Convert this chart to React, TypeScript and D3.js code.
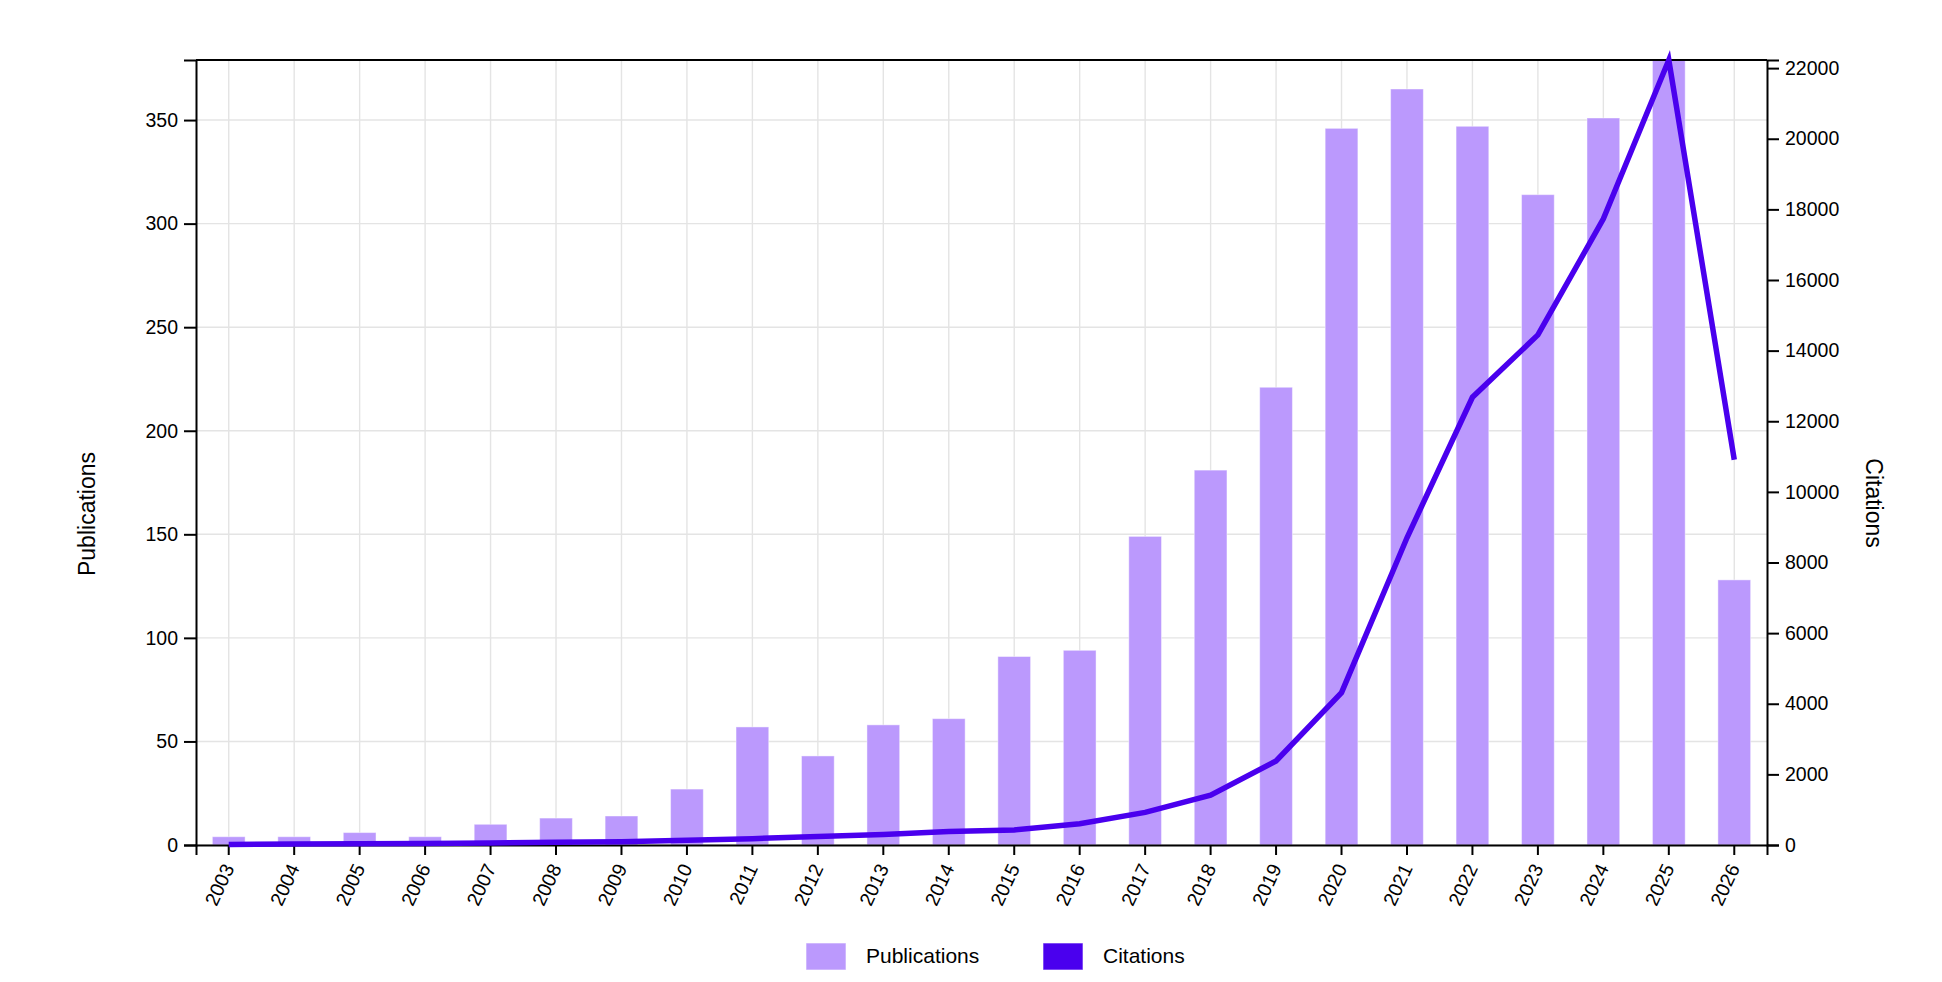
import * as d3 from "d3";
import { useEffect, useRef } from "react";

const years = [
    "2003", "2004", "2005", "2006", "2007", "2008", "2009", "2010",
    "2011", "2012", "2013", "2014", "2015", "2016", "2017", "2018",
    "2019", "2020", "2021", "2022", "2023", "2024", "2025", "2026",
];

const publications = [
    4, 4, 6, 4, 10, 13, 14, 27,
    57, 43, 58, 61, 91, 94, 149, 181,
    221, 346, 365, 347, 314, 351, 379, 128,
];

const citations = [
    15, 25, 35, 45, 60, 75, 95, 133,
    180, 238, 295, 380, 428, 600, 923, 1409,
    2380, 4316, 8700, 12680, 14445, 17730, 22230, 10909,
];

const legendItems = ["Publications", "Citations"];

const BAR_COLOR = "#bb99fd";
const LINE_COLOR = "#4a00ee";
const FONT = "'Liberation Sans', Arial, sans-serif";

export default function App() {
    const svgRef = useRef<SVGSVGElement>(null);

    const width = 1942;
    const height = 982;
    const margin = { top: 60, right: 175, bottom: 137, left: 196 };
    const innerWidth = width - margin.left - margin.right;
    const innerHeight = height - margin.top - margin.bottom;

    useEffect(() => {
        const svg = d3.select(svgRef.current);
        svg.selectAll("*").remove();

        const g = svg.append("g")
            .attr("transform", `translate(${margin.left},${margin.top})`);

        const x = d3.scaleBand<string>()
            .domain(years)
            .range([0, innerWidth])
            .padding(0);

        const yLeft = d3.scaleLinear()
            .domain([0, d3.max(publications)!])
            .range([innerHeight, 0]);

        const yRight = d3.scaleLinear()
            .domain([0, d3.max(citations)!])
            .range([innerHeight, 0]);

        const leftTicks = yLeft.ticks(8);
        const rightTicks = yRight.ticks(10);

        // grid
        const grid = g.append("g").attr("stroke", "#e4e4e4").attr("stroke-width", 1.4);
        grid.selectAll("line.h")
            .data(leftTicks)
            .join("line")
            .attr("class", "h")
            .attr("x1", 0)
            .attr("x2", innerWidth)
            .attr("y1", d => yLeft(d))
            .attr("y2", d => yLeft(d));
        grid.selectAll("line.v")
            .data(years)
            .join("line")
            .attr("class", "v")
            .attr("x1", d => x(d)! + x.bandwidth() / 2)
            .attr("x2", d => x(d)! + x.bandwidth() / 2)
            .attr("y1", 0)
            .attr("y2", innerHeight);

        // bars
        const barW = x.bandwidth() * 0.5;
        g.append("g")
            .selectAll("rect")
            .data(years)
            .join("rect")
            .attr("x", d => x(d)! + (x.bandwidth() - barW) / 2)
            .attr("y", (_, i) => yLeft(publications[i]))
            .attr("width", barW)
            .attr("height", (_, i) => innerHeight - yLeft(publications[i]))
            .attr("fill", BAR_COLOR)
            .attr("stroke", "rgba(255,255,255,0.45)")
            .attr("stroke-width", 1);

        // top border
        g.append("line")
            .attr("x1", 0)
            .attr("x2", innerWidth)
            .attr("y1", 0)
            .attr("y2", 0)
            .attr("stroke", "#000")
            .attr("stroke-width", 2);

        // axes
        const leftAxis = g.append("g")
            .call(d3.axisLeft(yLeft).tickValues(leftTicks).tickSize(12).tickPadding(6).tickFormat(d3.format("d")));

        const rightAxis = g.append("g")
            .attr("transform", `translate(${innerWidth},0)`)
            .call(d3.axisRight(yRight).tickValues(rightTicks).tickSize(12).tickPadding(6).tickFormat(d3.format("d")));

        const bottomAxis = g.append("g")
            .attr("transform", `translate(0,${innerHeight})`)
            .call(d3.axisBottom(x).tickSize(10).tickFormat(() => ""));

        bottomAxis.selectAll(".tick")
            .append("text")
            .attr("fill", "#000")
            .attr("text-anchor", "end")
            .attr("transform", "translate(6,23) rotate(-65)")
            .text(d => d as string);

        [leftAxis, rightAxis, bottomAxis].forEach(a => {
            a.selectAll("path, line").attr("stroke", "#000").attr("stroke-width", 2);
            a.selectAll("text").attr("font-family", FONT).attr("font-size", 19.5).attr("fill", "#000");
        });

        // citations line
        const line = d3.line<number>()
            .x((_, i) => x(years[i])! + x.bandwidth() / 2)
            .y(d => yRight(d));

        g.append("path")
            .datum(citations)
            .attr("d", line)
            .attr("fill", "none")
            .attr("stroke", LINE_COLOR)
            .attr("stroke-width", 5.5)
            .attr("stroke-linejoin", "miter");

        // axis titles
        svg.append("text")
            .attr("transform", "translate(95,514) rotate(-90)")
            .attr("text-anchor", "middle")
            .attr("font-family", FONT)
            .attr("font-size", 23)
            .text("Publications");

        svg.append("text")
            .attr("transform", "translate(1866,503) rotate(90)")
            .attr("text-anchor", "middle")
            .attr("font-family", FONT)
            .attr("font-size", 23)
            .text("Citations");

        // legend
        const legend = svg.append("g");
        const legendX = [806, 1043];
        const legendColors = [BAR_COLOR, LINE_COLOR];
        legendItems.forEach((name, i) => {
            legend.append("rect")
                .attr("x", legendX[i])
                .attr("y", 943)
                .attr("width", 40)
                .attr("height", 27)
                .attr("fill", legendColors[i])
                .attr("stroke", "rgba(255,255,255,0.6)")
                .attr("stroke-width", 1);
            legend.append("text")
                .attr("x", legendX[i] + 60)
                .attr("y", 963)
                .attr("font-family", FONT)
                .attr("font-size", 21)
                .text(name);
        });
    }, [innerHeight, innerWidth, margin.left, margin.top]);

    return (
        <svg
            ref={svgRef}
            width={width}
            height={height}
            style={{ position: "absolute", left: 0, top: 0, background: "#fff" }}
        />
    );
}
